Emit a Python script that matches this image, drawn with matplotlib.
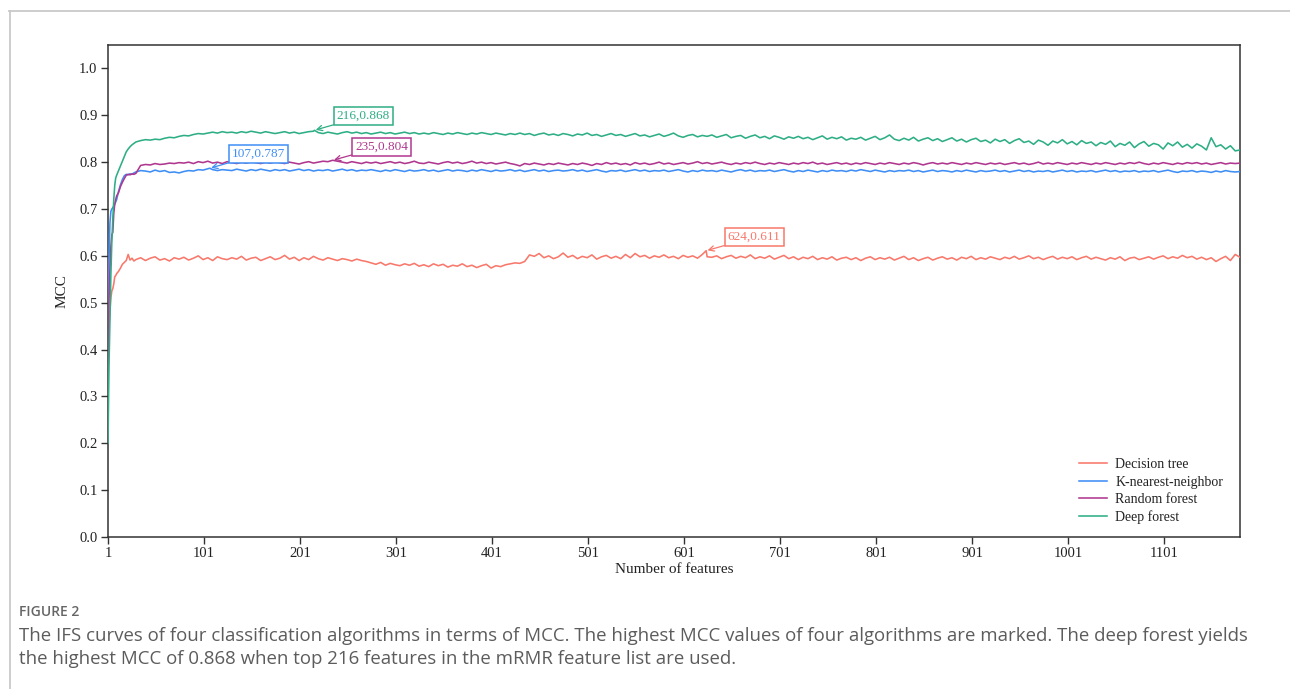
import numpy as np
import matplotlib
matplotlib.use("Agg")
import matplotlib.pyplot as plt
from matplotlib.lines import Line2D

# ---------------- data ----------------
series_names = ["Decision tree", "K-nearest-neighbor", "Random forest", "Deep forest"]
series_colors = ["#f8786b", "#3f8ef5", "#b0378f", "#2eae85"]

x_early = [1, 2, 3, 4, 5, 6, 7, 8, 9, 10, 12, 14, 16, 18, 20, 22, 24, 26, 28]
x_main_start, x_main_step, x_main_stop = 30, 5, 1180

dt_early = [0.40, 0.45, 0.48, 0.51, 0.525, 0.53, 0.54, 0.555, 0.558, 0.562, 0.567, 0.574,
            0.582, 0.586, 0.590, 0.603, 0.591, 0.595, 0.589]
knn_early = [0.42, 0.59, 0.67, 0.695, 0.70, 0.703, 0.706, 0.71, 0.715, 0.72, 0.738, 0.752,
             0.763, 0.771, 0.774, 0.773, 0.775, 0.774, 0.777]
rf_early = [0.36, 0.50, 0.57, 0.62, 0.645, 0.65, 0.69, 0.71, 0.72, 0.728, 0.735, 0.748,
            0.757, 0.765, 0.772, 0.774, 0.773, 0.775, 0.774]
df_early = [0.20, 0.36, 0.46, 0.56, 0.63, 0.68, 0.72, 0.75, 0.766, 0.772, 0.782, 0.792,
            0.802, 0.812, 0.822, 0.828, 0.833, 0.837, 0.840]

dt_main = [
    0.592, 0.596, 0.590, 0.595, 0.598, 0.591, 0.594, 0.589, 0.596, 0.593,
    0.597, 0.591, 0.595, 0.600, 0.592, 0.596, 0.590, 0.598, 0.594, 0.592,
    0.596, 0.593, 0.599, 0.591, 0.595, 0.597, 0.590, 0.594, 0.598, 0.592,
    0.595, 0.601, 0.593, 0.597, 0.590, 0.596, 0.592, 0.599, 0.594, 0.591,
    0.596, 0.593, 0.590, 0.594, 0.592, 0.589, 0.593, 0.590, 0.588, 0.585,
    0.582, 0.586, 0.580, 0.584, 0.581, 0.579, 0.583, 0.580, 0.584, 0.578,
    0.581, 0.577, 0.583, 0.579, 0.582, 0.576, 0.580, 0.578, 0.583, 0.577,
    0.580, 0.575, 0.579, 0.582, 0.574, 0.579, 0.577, 0.581, 0.583, 0.585,
    0.584, 0.588, 0.602, 0.599, 0.605, 0.596, 0.600, 0.594, 0.598, 0.606,
    0.597, 0.601, 0.594, 0.599, 0.596, 0.602, 0.593, 0.598, 0.601, 0.595,
    0.599, 0.594, 0.603, 0.596, 0.605, 0.598, 0.601, 0.595, 0.600, 0.597,
    0.602, 0.596, 0.599, 0.594, 0.601, 0.597, 0.600, 0.595, 0.603, 0.598,
    0.597, 0.600, 0.594, 0.598, 0.601, 0.595, 0.599, 0.596, 0.602, 0.594,
    0.598, 0.595, 0.600, 0.593, 0.597, 0.601, 0.594, 0.598, 0.592, 0.597,
    0.594, 0.599, 0.592, 0.596, 0.593, 0.598, 0.591, 0.595, 0.597, 0.592,
    0.596, 0.590, 0.595, 0.598, 0.592, 0.596, 0.593, 0.597, 0.591, 0.595,
    0.599, 0.592, 0.596, 0.590, 0.594, 0.597, 0.591, 0.595, 0.598, 0.593,
    0.596, 0.591, 0.597, 0.594, 0.599, 0.592, 0.596, 0.593, 0.598, 0.595,
    0.592, 0.597, 0.594, 0.599, 0.593, 0.596, 0.600, 0.594, 0.597, 0.592,
    0.596, 0.599, 0.593, 0.597, 0.594, 0.598, 0.592, 0.596, 0.599, 0.593,
    0.597, 0.594, 0.591, 0.596, 0.593, 0.598, 0.590, 0.595, 0.597, 0.592,
    0.595, 0.598, 0.593, 0.597, 0.600, 0.594, 0.598, 0.595, 0.601, 0.596,
    0.599, 0.593, 0.597, 0.592, 0.596, 0.588, 0.594, 0.599, 0.590, 0.603,
    0.597]

knn_main = [
    0.779, 0.782, 0.781, 0.779, 0.783, 0.780, 0.782, 0.778, 0.779, 0.777,
    0.780, 0.782, 0.781, 0.784, 0.783, 0.786, 0.784, 0.782, 0.784, 0.783,
    0.782, 0.785, 0.783, 0.781, 0.784, 0.782, 0.785, 0.783, 0.781, 0.784,
    0.782, 0.784, 0.781, 0.783, 0.785, 0.782, 0.784, 0.781, 0.783, 0.782,
    0.784, 0.781, 0.783, 0.785, 0.782, 0.784, 0.781, 0.783, 0.782, 0.784,
    0.782, 0.780, 0.783, 0.781, 0.784, 0.782, 0.780, 0.783, 0.781, 0.782,
    0.784, 0.781, 0.783, 0.780, 0.782, 0.784, 0.781, 0.783, 0.782, 0.780,
    0.783, 0.781, 0.784, 0.782, 0.780, 0.783, 0.781, 0.782, 0.784, 0.781,
    0.783, 0.780, 0.782, 0.784, 0.781, 0.783, 0.780, 0.782, 0.783, 0.781,
    0.782, 0.784, 0.781, 0.783, 0.780, 0.782, 0.784, 0.781, 0.779, 0.782,
    0.781, 0.783, 0.780, 0.782, 0.784, 0.781, 0.783, 0.780, 0.782, 0.781,
    0.783, 0.780, 0.782, 0.784, 0.781, 0.779, 0.782, 0.780, 0.783, 0.781,
    0.782, 0.780, 0.783, 0.781, 0.779, 0.782, 0.784, 0.781, 0.783, 0.780,
    0.782, 0.781, 0.783, 0.780, 0.782, 0.784, 0.781, 0.779, 0.782, 0.780,
    0.783, 0.781, 0.779, 0.782, 0.780, 0.783, 0.781, 0.782, 0.780, 0.783,
    0.781, 0.784, 0.782, 0.780, 0.783, 0.781, 0.779, 0.782, 0.780, 0.782,
    0.781, 0.783, 0.780, 0.782, 0.779, 0.781, 0.783, 0.780, 0.782, 0.781,
    0.779, 0.782, 0.780, 0.783, 0.781, 0.779, 0.782, 0.780, 0.781, 0.783,
    0.780, 0.782, 0.779, 0.781, 0.783, 0.780, 0.782, 0.779, 0.781, 0.780,
    0.782, 0.779, 0.781, 0.783, 0.780, 0.782, 0.779, 0.781, 0.780, 0.782,
    0.779, 0.781, 0.783, 0.780, 0.782, 0.779, 0.781, 0.780, 0.782, 0.779,
    0.781, 0.780, 0.782, 0.779, 0.781, 0.783, 0.780, 0.778, 0.781, 0.780,
    0.782, 0.779, 0.781, 0.780, 0.778, 0.781, 0.779, 0.782, 0.780, 0.779,
    0.780]

rf_main = [
    0.776, 0.793, 0.795, 0.794, 0.797, 0.795, 0.796, 0.798, 0.797, 0.799,
    0.798, 0.800, 0.797, 0.801, 0.799, 0.802, 0.798, 0.800, 0.797, 0.801,
    0.799, 0.797, 0.800, 0.798, 0.801, 0.799, 0.797, 0.800, 0.798, 0.801,
    0.799, 0.797, 0.800, 0.798, 0.796, 0.799, 0.801, 0.798, 0.800, 0.802,
    0.801, 0.799, 0.802, 0.800, 0.798, 0.801, 0.799, 0.797, 0.800, 0.798,
    0.800, 0.797, 0.799, 0.801, 0.798, 0.800, 0.797, 0.799, 0.802, 0.798,
    0.797, 0.800, 0.798, 0.796, 0.799, 0.801, 0.798, 0.800, 0.797, 0.799,
    0.802, 0.798, 0.800, 0.797, 0.799, 0.796, 0.798, 0.800, 0.797, 0.795,
    0.792, 0.797, 0.795, 0.798, 0.796, 0.794, 0.797, 0.795, 0.798, 0.796,
    0.794, 0.797, 0.795, 0.798, 0.796, 0.793, 0.797, 0.795, 0.799, 0.796,
    0.798, 0.795, 0.797, 0.794, 0.799, 0.796, 0.798, 0.795, 0.797, 0.800,
    0.796, 0.798, 0.795, 0.797, 0.799, 0.796, 0.798, 0.801, 0.797, 0.799,
    0.796, 0.798, 0.800, 0.797, 0.795, 0.798, 0.796, 0.799, 0.797, 0.800,
    0.797, 0.795, 0.798, 0.796, 0.799, 0.797, 0.795, 0.798, 0.796, 0.799,
    0.797, 0.800, 0.796, 0.798, 0.795, 0.797, 0.799, 0.796, 0.798, 0.795,
    0.798, 0.796, 0.799, 0.797, 0.795, 0.798, 0.796, 0.799, 0.797, 0.795,
    0.798, 0.796, 0.799, 0.797, 0.794, 0.797, 0.799, 0.796, 0.798, 0.796,
    0.799, 0.797, 0.795, 0.798, 0.796, 0.799, 0.797, 0.795, 0.798, 0.796,
    0.798, 0.795, 0.797, 0.799, 0.796, 0.798, 0.795, 0.797, 0.800, 0.796,
    0.798, 0.796, 0.799, 0.797, 0.795, 0.798, 0.796, 0.799, 0.797, 0.795,
    0.798, 0.796, 0.799, 0.797, 0.795, 0.798, 0.796, 0.799, 0.797, 0.800,
    0.797, 0.795, 0.798, 0.796, 0.799, 0.797, 0.795, 0.798, 0.796, 0.799,
    0.797, 0.799, 0.796, 0.798, 0.795, 0.797, 0.799, 0.796, 0.798, 0.797,
    0.798]

df_main = [
    0.843, 0.846, 0.848, 0.847, 0.849, 0.848, 0.851, 0.853, 0.852, 0.855,
    0.857, 0.856, 0.859, 0.861, 0.860, 0.862, 0.864, 0.862, 0.865, 0.863,
    0.864, 0.862, 0.865, 0.863, 0.866, 0.864, 0.862, 0.865, 0.863, 0.861,
    0.863, 0.865, 0.862, 0.864, 0.861, 0.863, 0.865, 0.866, 0.863, 0.861,
    0.864, 0.862, 0.860, 0.863, 0.865, 0.862, 0.864, 0.861, 0.863, 0.860,
    0.862, 0.864, 0.861, 0.863, 0.860, 0.862, 0.864, 0.861, 0.863, 0.860,
    0.862, 0.860, 0.863, 0.861, 0.859, 0.862, 0.860, 0.863, 0.861, 0.859,
    0.862, 0.860, 0.863, 0.861, 0.859, 0.862, 0.860, 0.858, 0.861, 0.859,
    0.862, 0.859, 0.861, 0.857, 0.860, 0.862, 0.858, 0.860, 0.857, 0.861,
    0.859, 0.856, 0.860, 0.858, 0.862, 0.857, 0.859, 0.855, 0.858, 0.861,
    0.857, 0.859, 0.855, 0.858, 0.861, 0.856, 0.858, 0.854, 0.857, 0.860,
    0.855, 0.858, 0.862, 0.856, 0.853, 0.857, 0.859, 0.854, 0.857, 0.855,
    0.858, 0.853, 0.856, 0.859, 0.852, 0.855, 0.857, 0.851, 0.855, 0.858,
    0.852, 0.855, 0.850, 0.856, 0.853, 0.849, 0.854, 0.851, 0.855, 0.850,
    0.853, 0.848, 0.852, 0.856, 0.849, 0.853, 0.850, 0.854, 0.847, 0.851,
    0.849, 0.853, 0.847, 0.851, 0.855, 0.848, 0.852, 0.858, 0.849, 0.846,
    0.851, 0.847, 0.853, 0.845, 0.849, 0.852, 0.846, 0.850, 0.844, 0.848,
    0.852, 0.845, 0.849, 0.843, 0.848, 0.851, 0.844, 0.847, 0.841, 0.849,
    0.844, 0.848, 0.840, 0.846, 0.850, 0.842, 0.845, 0.838, 0.847, 0.843,
    0.836, 0.845, 0.841, 0.848, 0.839, 0.844, 0.837, 0.846, 0.840, 0.843,
    0.835, 0.842, 0.838, 0.845, 0.833, 0.840, 0.836, 0.843, 0.831, 0.839,
    0.844, 0.834, 0.840, 0.837, 0.828, 0.841, 0.835, 0.843, 0.832, 0.838,
    0.830, 0.839, 0.834, 0.826, 0.852, 0.833, 0.837, 0.828, 0.835, 0.824,
    0.826]

# best points (feature count, MCC) and label anchor positions
peak_x = [624, 107, 235, 216]
peak_y = [0.611, 0.787, 0.804, 0.868]
label_x = [674, 158, 286, 267]
label_y = [0.640, 0.817, 0.833, 0.898]

x_ticks = [1, 101, 201, 301, 401, 501, 601, 701, 801, 901, 1001, 1101]
y_ticks = [0.0, 0.1, 0.2, 0.3, 0.4, 0.5, 0.6, 0.7, 0.8, 0.9, 1.0]

caption_title = "FIGURE 2"
caption_lines = [
    "The IFS curves of four classification algorithms in terms of MCC. The highest MCC values of four algorithms are marked. The deep forest yields",
    "the highest MCC of 0.868 when top 216 features in the mRMR feature list are used.",
]

# ---------------- figure ----------------
W, H = 1290, 689
fig = plt.figure(figsize=(W / 100, H / 100), dpi=100)
fig.patch.set_facecolor("white")

ax = fig.add_axes([108 / W, 1 - 537 / H, (1240 - 108) / W, (537 - 45) / H])

x_main = np.arange(x_main_start, x_main_stop + 1, x_main_step)


def build(early, main, px, py):
    xs = np.concatenate([np.array(x_early, float), x_main.astype(float)])
    ys = np.concatenate([np.array(early, float), np.array(main, float)])
    keep = xs != px
    xs = np.append(xs[keep], px)
    ys = np.append(ys[keep], py)
    o = np.argsort(xs)
    return xs[o], ys[o]


all_early = [dt_early, knn_early, rf_early, df_early]
all_main = [dt_main, knn_main, rf_main, df_main]

serif = ["Liberation Serif", "DejaVu Serif"]
sans = ["Open Sans", "DejaVu Sans"]

handles = []
for i in range(4):
    xs, ys = build(all_early[i], all_main[i], peak_x[i], peak_y[i])
    ln, = ax.plot(xs, ys, color=series_colors[i], lw=1.15, label=series_names[i], zorder=3)
    handles.append(ln)

for i in range(4):
    ax.annotate(f"{peak_x[i]},{peak_y[i]:.3f}",
                xy=(peak_x[i], peak_y[i]), xytext=(label_x[i], label_y[i]),
                ha="center", va="center", color=series_colors[i],
                fontsize=9.5, family=serif,
                bbox=dict(boxstyle="square,pad=0.22", fc="white", ec=series_colors[i], lw=1.1),
                arrowprops=dict(arrowstyle="->", color=series_colors[i], lw=0.9,
                                shrinkA=0, shrinkB=1),
                zorder=5)

ax.set_xlim(1, 1180)
ax.set_ylim(0.0, 1.05)
ax.set_xticks(x_ticks)
ax.set_xticklabels([str(t) for t in x_ticks])
ax.set_yticks(y_ticks)
ax.set_yticklabels([f"{t:.1f}" for t in y_ticks])

for s in ax.spines.values():
    s.set_color("#333333")
    s.set_linewidth(1.1)
ax.tick_params(direction="out", length=5, width=1.0, color="#333333", pad=2.5,
               labelsize=10.5, labelcolor="#222222")
for lab in ax.get_xticklabels() + ax.get_yticklabels():
    lab.set_family(serif)

ax.set_xlabel("Number of features", fontsize=11, family=serif, color="#222222", labelpad=2)
ax.set_ylabel("MCC", fontsize=11, family=serif, color="#222222", labelpad=8)

leg = fig.legend(handles=handles, loc="center left",
                 bbox_to_anchor=(1079 / W, 1 - 491 / H), bbox_transform=fig.transFigure,
                 frameon=False, borderpad=0, borderaxespad=0, handlelength=2.0,
                 handletextpad=0.6, labelspacing=0.30,
                 prop={"family": serif, "size": 10})
for t in leg.get_texts():
    t.set_color("#222222")

# outer frame lines (top and left)
fig.add_artist(Line2D([9 / W, 1.0], [1 - 10.5 / H, 1 - 10.5 / H], color="#c9c9c9", lw=1.3,
                      transform=fig.transFigure))
fig.add_artist(Line2D([9.5 / W, 9.5 / W], [0.0, 1 - 10.5 / H], color="#c9c9c9", lw=1.3,
                      transform=fig.transFigure))

# caption
fig.text(19 / W, 1 - 616 / H, caption_title, fontsize=10, family=sans, weight="semibold",
         color="#666666", ha="left", va="baseline")
fig.text(19 / W, 1 - 641 / H, caption_lines[0], fontsize=13.45, family=sans,
         color="#5c5c5c", ha="left", va="baseline")
fig.text(19 / W, 1 - 664 / H, caption_lines[1], fontsize=13.45, family=sans,
         color="#5c5c5c", ha="left", va="baseline")

fig.savefig("out.png", dpi=100, facecolor="white")
